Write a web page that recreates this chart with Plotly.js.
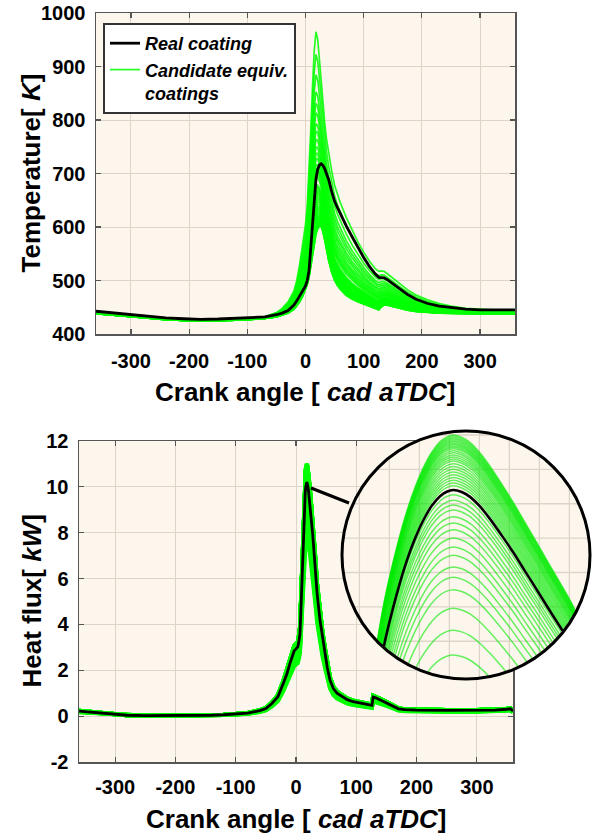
<!DOCTYPE html>
<html>
<head>
<meta charset="utf-8">
<script src="https://cdn.plot.ly/plotly-3.0.1.min.js"></script>
<style>
html,body{margin:0;padding:0;background:#ffffff;}
#chart{width:597px;height:833px;}
</style>
</head>
<body>
<div id="chart"></div>
<script>
// ---------------- data: temperature panel ----------------
const tAngle = [-360,-330,-300,-270,-240,-210,-180,-150,-120,-90,
  -70,-50,-40,-30,-20,-15,-10,-5,0,
  3,6,9,12,15,18,21,24,27,30,
  33,36,40,45,50,55,60,
  70,80,90,100,110,120,
  126,130,135,140,150,160,
  175,190,210,230,250,275,300,330,360];

const tReal = [442.5,439.5,436,433,430,428.5,427.5,428,429,430.5,
  432,436,439,444,454,462,472,481,490,
  500,518,560,610,655,690,708,716,718,715,
  709,700,688,666,648,636,624,
  602,582,562,543,526,512,
  506,506,505,502,494,485,
  474,465,457,452,449,446.5,445,444.5,445];

// hottest candidate (highest, widest peak)
const tHotCandidate = [441,437.5,434,431,428,426.5,425.5,426,427,429,
  432,440,448,460,480,500,530,568,605,
  640,700,780,860,930,965,950,912,870,830,
  795,765,735,705,678,660,645,
  618,594,572,553,536,522,
  517,518,517,513,504,495,
  483,473,464,457,452,448,446,444.5,444.5];

// coolest candidate (lowest, narrowest peak)
const tCoolCandidate = [438,435,432,429.5,427,425.5,425,425.5,426,427,
  429,432,435,439,446,452,460,470,482,
  492,505,525,548,570,586,596,601,600,590,
  575,558,536,515,500,490,483,
  472,465,460,456,452,448,
  445,450,454,454,451,448,
  444.5,442,440,439,438.5,438,437.5,437.5,437.5];

// ---------------- data: heat flux panel ----------------
const hfAngle = [-360,-340,-320,-300,-280,-250,-220,-190,-160,-140,-120,-100,-80,-60,-50,-40,-30,-21,-15,-10,
  -6,-3,-1,1,3,5,6.6,8,9.4,10.8,
  12.13,12.83,13.38,13.94,14.63,15.33,16.03,16.72,17.28,17.83,18.53,19.22,20.05,20.88,21.86,22.83,23.80,24.78,25.74,26.72,
  27.7,29.5,31.5,35,39.8,44,48.1,52,56.4,62,68,75,85,95,105,115,124,126,128,132,
  140,150,160,170,180,200,250,300,330,350,356,360];

const hfReal = [0.22,0.18,0.12,0.07,0.04,0.02,0.02,0.02,0.03,0.04,0.06,0.09,0.13,0.24,0.33,0.55,0.85,1.43,1.85,2.3,
  2.6,2.85,2.9,2.95,3.02,3.3,3.6,4.5,5.64,6.8,
  8.00,8.50,8.85,9.165,9.49,9.76,9.97,10.11,10.175,10.20,10.17,10.10,9.96,9.78,9.54,9.29,9.02,8.75,8.48,8.21,
  7.93,7.3,6.6,5.35,4.19,3.4,2.74,2.1,1.57,1.2,1.0,0.88,0.72,0.63,0.57,0.52,0.48,0.47,0.83,0.80,
  0.70,0.58,0.44,0.32,0.28,0.26,0.25,0.25,0.26,0.30,0.32,0.22];

// peak heat flux of each candidate coating (read from the magnified view)
const candidatePeakHF = [11.0,10.98,10.96,10.94,10.92,10.9,10.88,10.86,10.84,10.82,
  10.8,10.77,10.74,10.71,10.68,10.65,10.62,10.58,10.54,10.5,
  10.46,10.42,10.38,10.34,10.3,10.26,10.13,10.05,9.98,9.91,
  9.81,9.72,9.62,9.5,9.37,9.25,9.08,8.93,8.75,8.48,8.16,7.8];

// ---------------- ticks ----------------
const angleTicks = [-300,-200,-100,0,100,200,300];
const angleTickText = ['-300','-200','-100','0','100','200','300'];
const tempTicks = [400,500,600,700,800,900,1000];
const tempTickText = ['400','500','600','700','800','900','1000'];
const hfTicks = [-2,0,2,4,6,8,10,12];
const hfTickText = ['-2','0','2','4','6','8','10','12'];
const insetGridX = [10,12.5,15,17.5,20,22.5,25,27.5];
const insetGridY = [8,8.5,9,9.5,10,10.5,11];

// ---------------- layout geometry ----------------
const W = 597, H = 833;
const fx = v => v / W;
const fy = v => 1 - v / H;
const FONT = 'Liberation Sans, Arial, Helvetica, sans-serif';
const cream = '#fdf6ec';
const gridCol = '#ddd5c9';
const axisCol = '#555555';

const insetBox = {x0: 342, x1: 590, y0: 431, y1: 679};
const insetXRange = [8.55, 29.22];
const insetYRange = [7.451, 11.058];

const realPeak = Math.max(...hfReal);
const maxPeak = Math.max(...candidatePeakHF);
const minPeak = Math.min(...candidatePeakHF);

// clip a polyline (data coords) to the circle inscribed in the inset box
function clipToCircle(xs, ys) {
  const S = insetBox.x1 - insetBox.x0;
  const R = S / 2 - 1.5, C = S / 2;
  const toP = (x, y) => [(x - insetXRange[0]) / (insetXRange[1] - insetXRange[0]) * S,
                         (insetYRange[1] - y) / (insetYRange[1] - insetYRange[0]) * S];
  const toD = (X, Y) => [insetXRange[0] + X / S * (insetXRange[1] - insetXRange[0]),
                         insetYRange[1] - Y / S * (insetYRange[1] - insetYRange[0])];
  const ox = [], oy = [];
  let lastEndIdx = -2;
  for (let i = 0; i < xs.length - 1; i++) {
    const P = toP(xs[i], ys[i]), Q = toP(xs[i + 1], ys[i + 1]);
    const dx = Q[0] - P[0], dy = Q[1] - P[1];
    const fxp = P[0] - C, fyp = P[1] - C;
    const a = dx * dx + dy * dy, b = 2 * (fxp * dx + fyp * dy), c = fxp * fxp + fyp * fyp - R * R;
    const disc = b * b - 4 * a * c;
    if (a === 0 || disc <= 0) continue;
    const sq = Math.sqrt(disc);
    const t1 = (-b - sq) / (2 * a), t2 = (-b + sq) / (2 * a);
    const tA = Math.max(0, t1), tB = Math.min(1, t2);
    if (tA >= tB) continue;
    const A = toD(P[0] + tA * dx, P[1] + tA * dy);
    const B = toD(P[0] + tB * dx, P[1] + tB * dy);
    if (!(tA === 0 && lastEndIdx === i)) {
      if (ox.length) { ox.push(null); oy.push(null); }
      ox.push(A[0]); oy.push(A[1]);
    }
    ox.push(B[0]); oy.push(B[1]);
    lastEndIdx = (tB === 1) ? i + 1 : -2;
  }
  return {x: ox, y: oy};
}

const traces = [];

// ---- temperature: candidates ----
candidatePeakHF.forEach((p, k) => {
  const g = (maxPeak - p) / (maxPeak - minPeak);
  traces.push({
    x: tAngle,
    y: tAngle.map((_, i) => tCoolCandidate[i] + g * (tHotCandidate[i] - tCoolCandidate[i])),
    xaxis: 'x', yaxis: 'y', type: 'scatter', mode: 'lines',
    line: {color: 'rgba(0,255,0,0.85)', width: 1.7},
    name: 'Candidate equiv.<br>coatings', legendgroup: 'cand', legendrank: 2,
    showlegend: k === 0, hoverinfo: 'skip'
  });
});
traces.push({
  x: tAngle, y: tReal, xaxis: 'x', yaxis: 'y', type: 'scatter', mode: 'lines',
  line: {color: '#000000', width: 2.8}, name: 'Real coating', legendrank: 1,
  showlegend: true, hoverinfo: 'skip'
});

// ---- heat flux: candidates ----
candidatePeakHF.forEach((p) => {
  traces.push({
    x: hfAngle, y: hfReal.map(v => v * p / realPeak),
    xaxis: 'x2', yaxis: 'y2', type: 'scatter', mode: 'lines',
    line: {color: 'rgb(0,255,0)', width: 4}, showlegend: false, hoverinfo: 'skip'
  });
});
traces.push({
  x: hfAngle, y: hfReal, xaxis: 'x2', yaxis: 'y2', type: 'scatter', mode: 'lines',
  line: {color: '#000000', width: 2.8}, showlegend: false, hoverinfo: 'skip'
});

// ---- magnified view of the heat flux peak ----
candidatePeakHF.forEach((p) => {
  const c = clipToCircle(hfAngle, hfReal.map(v => v * p / realPeak));
  traces.push({
    x: c.x, y: c.y, xaxis: 'x3', yaxis: 'y3', type: 'scatter', mode: 'lines',
    line: {color: 'rgba(0,235,0,0.6)', width: 1.5, shape: 'spline', smoothing: 1},
    showlegend: false, hoverinfo: 'skip'
  });
});
{
  const c = clipToCircle(hfAngle, hfReal);
  traces.push({
    x: c.x, y: c.y, xaxis: 'x3', yaxis: 'y3', type: 'scatter', mode: 'lines',
    line: {color: '#000000', width: 2.6, shape: 'spline', smoothing: 1},
    showlegend: false, hoverinfo: 'skip'
  });
}

// ---------------- shapes ----------------
const shapes = [
  {type: 'rect', xref: 'x', yref: 'y', x0: -360, x1: 360, y0: 400, y1: 1000,
   fillcolor: cream, line: {width: 0}, layer: 'below'},
  {type: 'rect', xref: 'x2', yref: 'y2', x0: -360, x1: 360, y0: -2, y1: 12,
   fillcolor: cream, line: {width: 0}, layer: 'below'},
  {type: 'circle', xref: 'x3', yref: 'y3', x0: insetXRange[0], x1: insetXRange[1],
   y0: insetYRange[0], y1: insetYRange[1], fillcolor: cream, line: {width: 0}, layer: 'below'}
];
// inset grid chords
const icx = (insetXRange[0] + insetXRange[1]) / 2, irx = (insetXRange[1] - insetXRange[0]) / 2;
const icy = (insetYRange[0] + insetYRange[1]) / 2, iry = (insetYRange[1] - insetYRange[0]) / 2;
insetGridX.forEach(v => {
  const u = (v - icx) / irx;
  if (Math.abs(u) >= 1) return;
  const h = iry * Math.sqrt(1 - u * u);
  shapes.push({type: 'line', xref: 'x3', yref: 'y3', x0: v, x1: v, y0: icy - h, y1: icy + h,
    line: {color: gridCol, width: 1.3}, layer: 'below'});
});
insetGridY.forEach(v => {
  const u = (v - icy) / iry;
  if (Math.abs(u) >= 1) return;
  const h = irx * Math.sqrt(1 - u * u);
  shapes.push({type: 'line', xref: 'x3', yref: 'y3', x0: icx - h, x1: icx + h, y0: v, y1: v,
    line: {color: gridCol, width: 1.3}, layer: 'below'});
});
// connector and circle outline
shapes.push({type: 'line', xref: 'paper', yref: 'paper', x0: fx(311), y0: fy(488), x1: fx(349), y1: fy(503),
  line: {color: '#000000', width: 3.2}, layer: 'above'});
shapes.push({type: 'circle', xref: 'paper', yref: 'paper', x0: fx(insetBox.x0), x1: fx(insetBox.x1),
  y0: fy(insetBox.y1), y1: fy(insetBox.y0), line: {color: '#000000', width: 3}, layer: 'above'});

// ---------------- axes ----------------
const tickFont = {family: FONT, size: 20, color: '#000000', weight: 'bold'};
function axisBase(extra) {
  return Object.assign({
    showline: true, linecolor: axisCol, linewidth: 1.5, mirror: 'ticks',
    ticks: 'inside', ticklen: 5, tickwidth: 1.2, tickcolor: axisCol,
    showgrid: true, gridcolor: gridCol, gridwidth: 1, zeroline: false,
    tickfont: tickFont, tickmode: 'array', fixedrange: true
  }, extra);
}

const titleFont = {family: FONT, size: 26, color: '#000000', weight: 'bold'};

const layout = {
  width: W, height: H,
  margin: {l: 0, r: 0, t: 0, b: 0, pad: 0},
  paper_bgcolor: '#ffffff',
  plot_bgcolor: 'rgba(0,0,0,0)',
  showlegend: true,
  xaxis: axisBase({domain: [fx(96), fx(515)], range: [-360, 360], anchor: 'y',
    tickvals: angleTicks, ticktext: angleTickText, ticklabelstandoff: 8}),
  yaxis: axisBase({domain: [fy(334), fy(13)], range: [400, 1000], anchor: 'x',
    tickvals: tempTicks, ticktext: tempTickText, ticklabelstandoff: 5}),
  xaxis2: axisBase({domain: [fx(79), fx(513)], range: [-360, 360], anchor: 'y2',
    tickvals: angleTicks, ticktext: angleTickText, ticklabelstandoff: 6}),
  yaxis2: axisBase({domain: [fy(762), fy(441)], range: [-2, 12], anchor: 'x2',
    tickvals: hfTicks, ticktext: hfTickText, ticklabelstandoff: 5}),
  xaxis3: {domain: [fx(insetBox.x0), fx(insetBox.x1)], range: insetXRange, anchor: 'y3',
    visible: false, fixedrange: true},
  yaxis3: {domain: [fy(insetBox.y1), fy(insetBox.y0)], range: insetYRange, anchor: 'x3',
    visible: false, fixedrange: true},
  legend: {
    x: fx(103), y: fy(23), xanchor: 'left', yanchor: 'top',
    bgcolor: '#ffffff', bordercolor: '#333333', borderwidth: 2,
    font: {family: FONT, size: 18, color: '#000000', weight: 'bold', style: 'italic'},
    valign: 'top', traceorder: 'normal', itemwidth: 30, tracegroupgap: 0
  },
  shapes: shapes,
  annotations: [
    {xref: 'paper', yref: 'paper', x: fx(30), y: fy(173.5), text: 'Temperature[ <i>K</i>]',
     textangle: -90, showarrow: false, xanchor: 'center', yanchor: 'middle', font: titleFont},
    {xref: 'paper', yref: 'paper', x: fx(305.5), y: fy(392), text: 'Crank angle [ <i>cad aTDC</i>]',
     showarrow: false, xanchor: 'center', yanchor: 'middle', font: titleFont},
    {xref: 'paper', yref: 'paper', x: fx(31), y: fy(601.5), text: 'Heat flux[ <i>kW</i>]',
     textangle: -90, showarrow: false, xanchor: 'center', yanchor: 'middle', font: titleFont},
    {xref: 'paper', yref: 'paper', x: fx(296), y: fy(819), text: 'Crank angle [ <i>cad aTDC</i>]',
     showarrow: false, xanchor: 'center', yanchor: 'middle', font: titleFont}
  ],
  hovermode: false
};

Plotly.newPlot('chart', traces, layout, {displayModeBar: false, staticPlot: true});
</script>
</body>
</html>
